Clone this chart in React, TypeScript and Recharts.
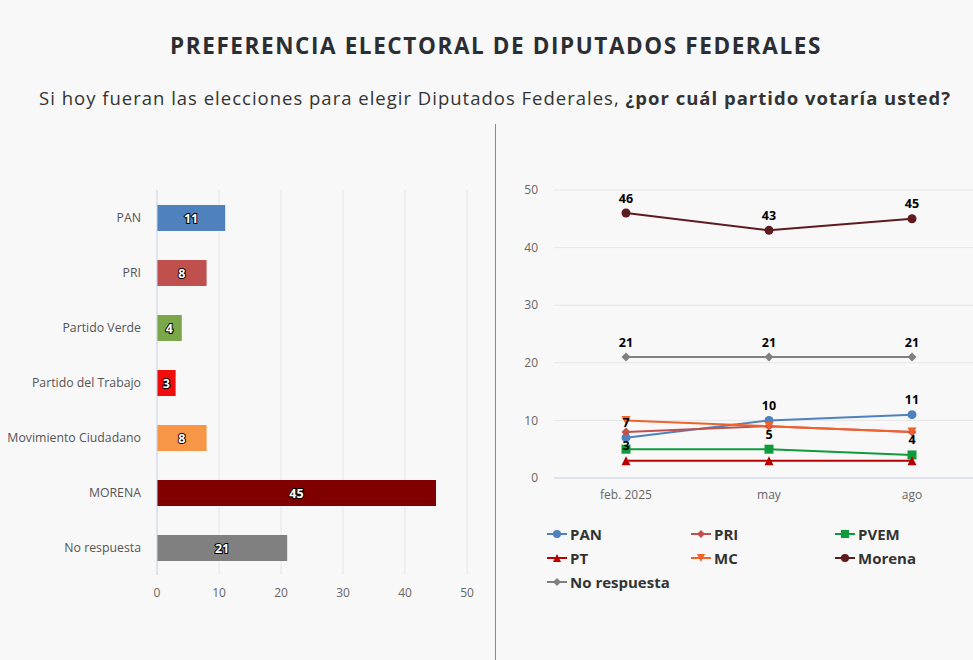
import React from "react";
import {
  BarChart,
  Bar,
  XAxis,
  YAxis,
  CartesianGrid,
  Cell,
  LabelList,
  LineChart,
  Line,
} from "recharts";

// current wave, bar chart
const PARTIES = [
  "PAN",
  "PRI",
  "Partido Verde",
  "Partido del Trabajo",
  "Movimiento Ciudadano",
  "MORENA",
  "No respuesta",
];
const CURRENT = [11, 8, 4, 3, 8, 45, 21];
const BAR_COLORS = ["#4f81bd", "#c0504d", "#7aa848", "#f20d0d", "#f79646", "#800000", "#808080"];
const BAR_TICKS = [0, 10, 20, 30, 40, 50];

// trend, line chart
const MONTHS = ["feb. 2025", "may", "ago"];
const PAN = [7, 10, 11];
const PRI = [8, 9, 8];
const PVEM = [5, 5, 4];
const PT = [3, 3, 3];
const MC = [10, 9, 8];
const MORENA = [46, 43, 45];
const NO_RESP = [21, 21, 21];
const LINE_TICKS = [0, 10, 20, 30, 40, 50];

type Shape = "circle" | "diamond" | "square" | "triangle" | "triangle-down";

const SERIES: {
  key: string;
  name: string;
  values: number[];
  color: string;
  shape: Shape;
  shown: number[]; // labels that are not hidden by overlap
}[] = [
  { key: "pan", name: "PAN", values: PAN, color: "#4f81bd", shape: "circle", shown: [0, 1, 2] },
  { key: "pri", name: "PRI", values: PRI, color: "#c0504d", shape: "diamond", shown: [] },
  { key: "pvem", name: "PVEM", values: PVEM, color: "#0f9b3c", shape: "square", shown: [1, 2] },
  { key: "pt", name: "PT", values: PT, color: "#b80000", shape: "triangle", shown: [0] },
  { key: "mc", name: "MC", values: MC, color: "#f0622a", shape: "triangle-down", shown: [] },
  { key: "morena", name: "Morena", values: MORENA, color: "#5e1b1f", shape: "circle", shown: [0, 1, 2] },
  { key: "nr", name: "No respuesta", values: NO_RESP, color: "#808080", shape: "diamond", shown: [0, 1, 2] },
];

const barData = PARTIES.map((p, i) => ({ party: p, value: CURRENT[i] }));
const lineData = MONTHS.map((m, i) => {
  const row: Record<string, string | number> = { month: m };
  SERIES.forEach((s) => (row[s.key] = s.values[i]));
  return row;
});

const FONT = "'Open Sans', 'Noto Sans', sans-serif";

function Marker({ cx, cy, shape, color, size = 1 }: { cx: number; cy: number; shape: Shape; color: string; size?: number }) {
  const r = 4.5 * size;
  if (shape === "circle") return <circle cx={cx} cy={cy} r={r} fill={color} />;
  if (shape === "square") return <rect x={cx - r} y={cy - r} width={r * 2} height={r * 2} fill={color} />;
  if (shape === "diamond")
    return <polygon points={`${cx},${cy - r} ${cx + r},${cy} ${cx},${cy + r} ${cx - r},${cy}`} fill={color} />;
  if (shape === "triangle")
    return <polygon points={`${cx},${cy - r} ${cx + r},${cy + r} ${cx - r},${cy + r}`} fill={color} />;
  return <polygon points={`${cx - r},${cy - r} ${cx + r},${cy - r} ${cx},${cy + r}`} fill={color} />;
}

function BarValue(props: any) {
  const { x, y, width, height, value } = props;
  return (
    <text
      x={x + width / 2}
      y={y + height / 2}
      textAnchor="middle"
      dominantBaseline="central"
      fill="#fff"
      stroke="#000"
      strokeWidth={2}
      paintOrder="stroke"
      fontSize={12.5}
      fontWeight="bold"
      fontFamily={FONT}
    >
      {value}
    </text>
  );
}

export default function App() {
  return (
    <div
      style={{
        position: "absolute",
        left: 0,
        top: 0,
        width: 973,
        height: 660,
        overflow: "hidden",
        background: "#f8f8f9",
        fontFamily: FONT,
      }}
    >
      <div
        style={{
          position: "absolute",
          top: 30,
          width: 992,
          textAlign: "center",
          fontFamily: FONT,
          fontWeight: 700,
          fontSize: 22.5,
          letterSpacing: 1.6,
          color: "#2b2e33",
        }}
      >
        PREFERENCIA ELECTORAL DE DIPUTADOS FEDERALES
      </div>
      <div
        style={{
          position: "absolute",
          top: 85,
          width: 990,
          textAlign: "center",
          fontFamily: FONT,
          fontSize: 18.5,
          color: "#333",
          letterSpacing: 1.0,
        }}
      >
        Si hoy fueran las elecciones para elegir Diputados Federales, <b>¿por cuál partido votaría usted?</b>
      </div>

      <div style={{ position: "absolute", left: 495, top: 124, width: 1, height: 536, background: "#8a8a8a" }} />

      <div style={{ position: "absolute", left: 0, top: 180 }}>
        <BarChart
          width={490}
          height={430}
          layout="vertical"
          data={barData}
          margin={{ top: 10, right: 23, bottom: 5, left: 0 }}
          barCategoryGap="26%"
        >
          <CartesianGrid horizontal={false} stroke="#e6e6e6" />
          <XAxis
            type="number"
            domain={[0, 50]}
            ticks={BAR_TICKS}
            axisLine={false}
            tickLine={false}
            tickSize={0}
            tickMargin={13}
            height={30}
            tick={{ fill: "#666", fontSize: 12, fontFamily: FONT }}
          />
          <YAxis
            type="category"
            dataKey="party"
            width={157}
            axisLine={{ stroke: "#ccd6eb" }}
            tickLine={false}
            tickSize={0}
            tickMargin={16}
            tick={{ fill: "#555", fontSize: 12.3, fontFamily: FONT }}
          />
          <Bar dataKey="value" barSize={26} isAnimationActive={false}>
            {barData.map((_, i) => (
              <Cell key={i} fill={BAR_COLORS[i]} />
            ))}
            <LabelList dataKey="value" content={BarValue} />
          </Bar>
        </BarChart>
      </div>

      <div style={{ position: "absolute", left: 500, top: 171 }}>
        <LineChart width={490} height={337} data={lineData} margin={{ top: 19, right: 6, bottom: 0, left: 0 }}>
          <CartesianGrid vertical={false} stroke="#e6e6e6" />
          <XAxis
            dataKey="month"
            padding={{ left: 72, right: 72 }}
            axisLine={{ stroke: "#ccd6eb" }}
            tickLine={false}
            tickSize={0}
            tickMargin={12}
            height={30}
            tick={{ fill: "#666", fontSize: 12, fontFamily: FONT }}
          />
          <YAxis
            domain={[0, 50]}
            ticks={LINE_TICKS}
            width={54}
            axisLine={false}
            tickLine={false}
            tickSize={0}
            tickMargin={16}
            tick={{ fill: "#666", fontSize: 12, fontFamily: FONT }}
          />
          {SERIES.map((s) => (
            <Line
              key={s.key}
              dataKey={s.key}
              name={s.name}
              stroke={s.color}
              strokeWidth={2}
              isAnimationActive={false}
              dot={(p: any) => (
                <Marker key={`${s.key}-${p.index}`} cx={p.cx} cy={p.cy} shape={s.shape} color={s.color} />
              )}
              activeDot={false}
              label={(p: any) =>
                s.shown.includes(p.index) ? (
                  <text
                    key={`${s.key}-l-${p.index}`}
                    x={p.x}
                    y={p.y - 15}
                    textAnchor="middle"
                    dominantBaseline="central"
                    fontSize={12.5}
                    fontWeight="bold"
                    fill="#000"
                    fontFamily={FONT}
                  >
                    {p.value}
                  </text>
                ) : (
                  <g key={`${s.key}-l-${p.index}`} />
                )
              }
            />
          ))}
        </LineChart>
      </div>

      <div
        style={{
          position: "absolute",
          left: 546,
          top: 524,
          display: "grid",
          gridTemplateColumns: "144px 144px 144px",
          rowGap: 4,
          fontFamily: FONT,
          fontSize: 15,
          fontWeight: 700,
          color: "#333",
        }}
      >
        {SERIES.map((s) => (
          <div key={s.key} style={{ display: "flex", alignItems: "center", height: 20 }}>
            <svg width={22} height={12} style={{ marginRight: 2 }}>
              <line x1={1} y1={6} x2={21} y2={6} stroke={s.color} strokeWidth={2} />
              <Marker cx={11} cy={6} shape={s.shape} color={s.color} size={0.9} />
            </svg>
            <span>{s.name}</span>
          </div>
        ))}
      </div>
    </div>
  );
}
